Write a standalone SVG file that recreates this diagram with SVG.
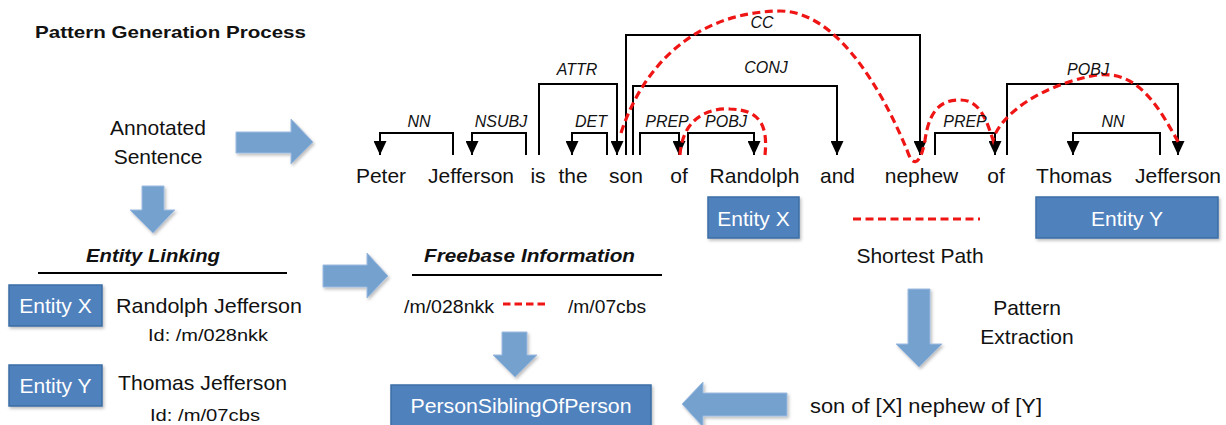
<svg xmlns="http://www.w3.org/2000/svg" width="1226" height="425" viewBox="0 0 1226 425">
<style>
text{font-family:"Liberation Sans",Arial,sans-serif;fill:#111}
.w{font-size:21px}
.lab{font-size:16px;font-style:italic;text-anchor:middle}
.box{fill:#4f81bd;stroke:#3b6ea5;stroke-width:1.5;filter:url(#sh)}
.bt{fill:#fff;font-size:21px;text-anchor:middle}
.arr{fill:#75a1cf;stroke:#9dbbe0;stroke-width:1;filter:url(#sh)}
.dep{fill:none;stroke:#000;stroke-width:2;marker-end:url(#ah)}
.red{fill:none;stroke:#f01515;stroke-width:3.2;stroke-dasharray:8 4.5}
.hd{font-size:19px;font-weight:bold;font-style:italic;text-anchor:middle}
.ul{stroke:#000;stroke-width:2}
</style>
<defs>
<filter id="sh" x="-20%" y="-20%" width="150%" height="160%">
<feDropShadow dx="1.5" dy="2" stdDeviation="1.5" flood-color="#000" flood-opacity="0.25"/>
</filter>
<marker id="ah" viewBox="0 0 14 13" refX="14" refY="6.5" markerWidth="14" markerHeight="13" markerUnits="userSpaceOnUse" orient="auto">
<path d="M0,0 L14,6.5 L0,13 z" fill="#000"/>
</marker>
</defs>

<g id="title"><text x="35" y="38" style="font-size:17px;font-weight:bold" textLength="271" lengthAdjust="spacingAndGlyphs">Pattern Generation Process</text></g>

<g id="annotated-sentence">
<text class="w" x="158" y="135" text-anchor="middle">Annotated</text>
<text class="w" x="158" y="164" text-anchor="middle">Sentence</text>
</g>

<g id="sentence">
<text class="w" x="381" y="183" text-anchor="middle">Peter</text>
<text class="w" x="471" y="183" text-anchor="middle">Jefferson</text>
<text class="w" x="538" y="183" text-anchor="middle">is</text>
<text class="w" x="573" y="183" text-anchor="middle">the</text>
<text class="w" x="626" y="183" text-anchor="middle">son</text>
<text class="w" x="679" y="183" text-anchor="middle">of</text>
<text class="w" x="754.5" y="183" text-anchor="middle">Randolph</text>
<text class="w" x="837.5" y="183" text-anchor="middle">and</text>
<text class="w" x="921.5" y="183" text-anchor="middle">nephew</text>
<text class="w" x="996" y="183" text-anchor="middle">of</text>
<text class="w" x="1074" y="183" text-anchor="middle">Thomas</text>
<text class="w" x="1178" y="183" text-anchor="middle">Jefferson</text>
</g>

<g id="connectors">
<path class="dep" d="M453,155 V133 H380 V155"/>
<path class="dep" d="M526,155 V133 H472 V155"/>
<path class="dep" d="M539,155 V84 H617 V155"/>
<path class="dep" d="M607,155 V133 H572 V155"/>
<path class="dep" d="M626,155 V35 H920 V155"/>
<path class="dep" d="M633,155 V86 H837 V155"/>
<path class="dep" d="M640,155 V133 H679 V155"/>
<path class="dep" d="M688,155 V133 H754 V155"/>
<path class="dep" d="M935,155 V133 H995 V155"/>
<path class="dep" d="M1007,155 V84 H1178 V155"/>
<path class="dep" d="M1160,155 V133 H1073 V155"/>
<path class="red" d="M621,133 C645,60 700,12 780,11 C835,11 880,85 907,150 C912,166 920,168 925,140 C930,105 945,100 960,100 C978,100 985,115 993,140 C1000,115 1040,85 1097,75 C1140,70 1160,110 1180,145"/>
<path class="red" d="M680,155 C683,110 720,108 730,109 C760,110 768,125 765,155"/>
<line class="red" x1="853" y1="219" x2="980" y2="219"/>
<line class="red" x1="503" y1="304" x2="546" y2="304" style="stroke-dasharray:7.5 4"/>
</g>

<g id="dep-labels">
<text class="lab" x="419" y="127">NN</text>
<text class="lab" x="501" y="127">NSUBJ</text>
<text class="lab" x="577" y="75">ATTR</text>
<text class="lab" x="591" y="127">DET</text>
<text class="lab" x="762" y="28">CC</text>
<text class="lab" x="766" y="73">CONJ</text>
<text class="lab" x="667" y="127">PREP</text>
<text class="lab" x="726" y="127">POBJ</text>
<text class="lab" x="965" y="127">PREP</text>
<text class="lab" x="1088" y="75">POBJ</text>
<text class="lab" x="1113" y="127">NN</text>
</g>

<g id="entity-x-sentence"><rect class="box" x="708" y="197" width="91" height="41"/><text class="bt" x="753.5" y="226">Entity X</text></g>
<g id="entity-y-sentence"><rect class="box" x="1036" y="197" width="182" height="41"/><text class="bt" x="1127" y="226">Entity Y</text></g>
<g id="shortest-path"><text class="w" x="920" y="263" text-anchor="middle">Shortest Path</text></g>

<g id="arrow-right-top"><path class="arr" d="M236,132 H291 V119 L313,142 L291,164 V153 H236 Z"/></g>
<g id="arrow-down-left"><path class="arr" d="M142,186 H164 V210 H175 L153,233 L130,210 H142 Z"/></g>
<g id="arrow-right-mid"><path class="arr" d="M323,265 H367 V253 L388,276 L367,298 V287 H323 Z"/></g>
<g id="arrow-down-mid"><path class="arr" d="M502,332 H527 V355 H537 L515,377 L493,355 H502 Z"/></g>
<g id="arrow-down-right"><path class="arr" d="M908,289 H930 V344 H942 L919,367 L896,344 H908 Z"/></g>
<g id="arrow-left-bottom"><path class="arr" d="M787,393 H703 V382 L682,404 L703,427 V416 H787 Z"/></g>

<g id="entity-linking">
<text class="hd" x="153" y="262" textLength="134" lengthAdjust="spacingAndGlyphs">Entity Linking</text>
<line class="ul" x1="38" y1="273" x2="287" y2="273"/>
</g>
<g id="entity-x-link"><rect class="box" x="9" y="285" width="93" height="41"/><text class="bt" x="55.5" y="313">Entity X</text></g>
<g id="randolph"><text class="w" x="116" y="313" textLength="186" lengthAdjust="spacingAndGlyphs">Randolph Jefferson</text>
<text x="148" y="341" style="font-size:17px" textLength="120" lengthAdjust="spacingAndGlyphs">Id:  /m/028nkk</text></g>
<g id="entity-y-link"><rect class="box" x="9" y="365" width="93" height="41"/><text class="bt" x="55.5" y="393">Entity Y</text></g>
<g id="thomas"><text class="w" x="118" y="390" textLength="169" lengthAdjust="spacingAndGlyphs">Thomas Jefferson</text>
<text x="150" y="421" style="font-size:17px" textLength="110" lengthAdjust="spacingAndGlyphs">Id: /m/07cbs</text></g>

<g id="freebase">
<text class="hd" x="529.5" y="262" textLength="211" lengthAdjust="spacingAndGlyphs">Freebase Information</text>
<line class="ul" x1="412" y1="275" x2="662" y2="275"/>
<text x="404" y="313" style="font-size:18px" textLength="90" lengthAdjust="spacingAndGlyphs">/m/028nkk</text>
<text x="568" y="313" style="font-size:18px" textLength="78" lengthAdjust="spacingAndGlyphs">/m/07cbs</text>
</g>

<g id="person-sibling"><rect class="box" x="391" y="385" width="260" height="44"/><text class="bt" x="521" y="413" textLength="221" lengthAdjust="spacingAndGlyphs">PersonSiblingOfPerson</text></g>

<g id="pattern-extraction">
<text class="w" x="1027" y="315" text-anchor="middle">Pattern</text>
<text class="w" x="1027" y="344" text-anchor="middle">Extraction</text>
</g>
<g id="pattern"><text class="w" x="810" y="413" textLength="232" lengthAdjust="spacingAndGlyphs">son of [X] nephew of [Y]</text></g>
</svg>
